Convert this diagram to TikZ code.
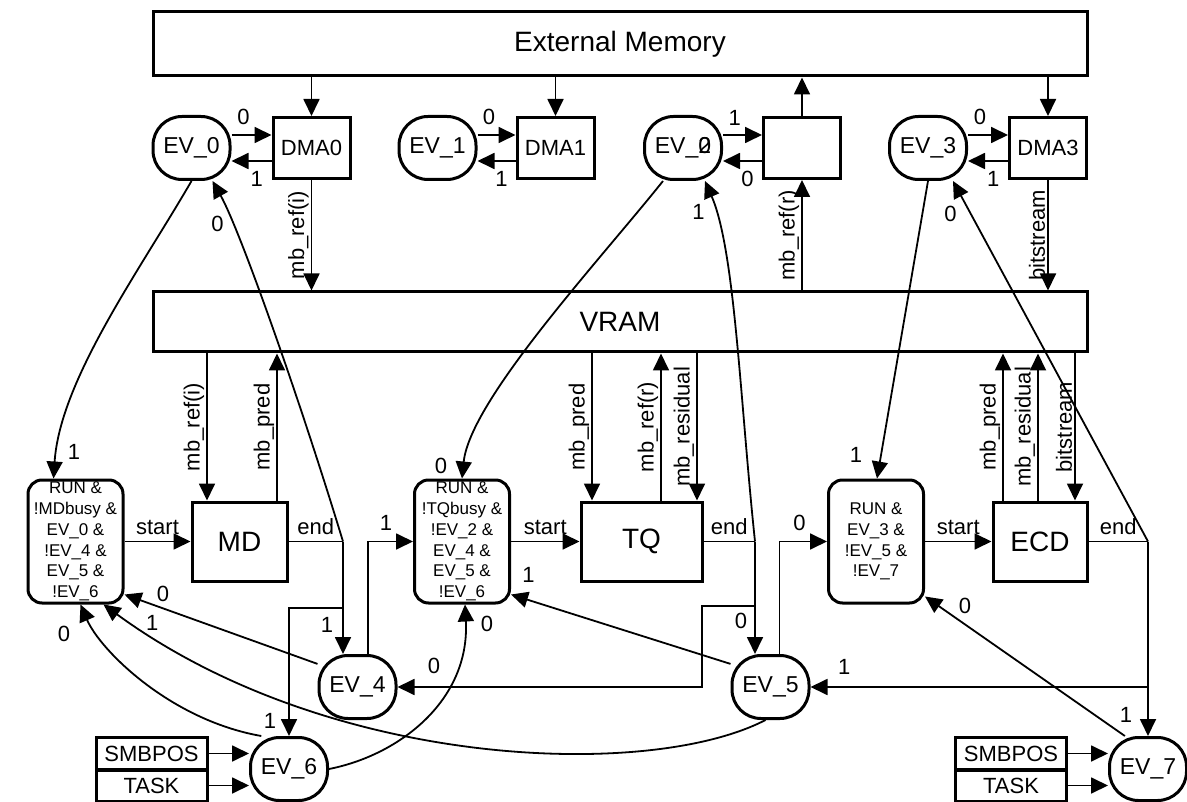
\documentclass[tikz,border=0pt]{standalone}
\usepackage{fontspec}
\setmainfont{Liberation Sans}
\usetikzlibrary{arrows.meta}
\tikzset{
  evt/.style={draw, line width=3pt, rounded corners=29pt, minimum width=77pt, minimum height=63pt, inner sep=0pt, font=\fontsize{23}{26}\selectfont},
  dma/.style={draw, line width=3pt, minimum width=77pt, minimum height=61pt, inner sep=0pt, font=\fontsize{22}{26}\selectfont},
  mem/.style={draw, line width=3pt, minimum width=934pt, inner sep=0pt, font=\fontsize{28}{32}\selectfont},
  unit/.style={draw, line width=3pt, minimum height=79pt, inner sep=0pt, font=\fontsize{28}{32}\selectfont},
  cnd/.style={draw, line width=3pt, rounded corners=14pt, minimum width=95pt, minimum height=123pt, inner sep=0pt, align=center, font=\fontsize{17}{20.7}\selectfont},
  src/.style={draw, line width=3pt, minimum width=111pt, minimum height=32pt, inner sep=0pt, font=\fontsize{22}{26}\selectfont},
  tra/.style={-{Triangle[length=17pt, width=16pt]}, line width=1.8pt},
  wire/.style={line width=1.8pt},
  tlab/.style={font=\fontsize{22}{26}\selectfont, inner sep=6pt},
  vlab/.style={font=\fontsize{22}{26}\selectfont, inner sep=2pt, rotate=90, anchor=south}
}
\newcommand{\dmalink}[3]{%
  \draw[tra] ([yshift=13pt]ev#1.east) -- node[tlab, above=3pt, pos=.3] {#2} ([yshift=13pt]dma#1.west);
  \draw[tra] ([yshift=-13pt]dma#1.west) -- node[tlab, below=3pt, pos=.37] {#3} ([yshift=-13pt]ev#1.east);}

\begin{document}
\begin{tikzpicture}[x=1pt, y=-1pt]
\useasboundingbox (0,0) rectangle (1187,802);

% memories
\node[mem, minimum height=64pt] (extmem) at (620,44) {External Memory};
\node[mem, minimum height=60pt] (vram) at (620,322) {VRAM};

% dma channels
\node[evt] (ev0) at (191.5,148) {EV\_0};
\node[dma] (dma0) at (311.5,148) {DMA0};
\node[evt] (ev1) at (437.5,148) {EV\_1};
\node[dma] (dma1) at (555.5,148) {DMA1};
\node[evt] (ev2) at (683,148) {EV\_\rlap{0}2};
\node[dma] (dma2) at (802,148) {};
\node[evt] (ev3) at (928,148) {EV\_3};
\node[dma] (dma3) at (1048,148) {DMA3};

% stages
\node[cnd] (rdyMD) at (75.5,541.5) {RUN \&\\!MDbusy \&\\EV\_0 \&\\!EV\_4 \&\\EV\_5 \&\\!EV\_6};
\node[unit, minimum width=95pt] (md) at (239.5,541.5) {MD};
\node[cnd] (rdyTQ) at (462,541.5) {RUN \&\\!TQbusy \&\\!EV\_2 \&\\EV\_4 \&\\EV\_5 \&\\!EV\_6};
\node[unit, minimum width=121pt] (tq) at (641.5,541.5) {TQ};
\node[cnd] (rdyECD) at (876,541.5) {RUN \&\\EV\_3 \&\\!EV\_5 \&\\!EV\_7};
\node[unit, minimum width=94pt] (ecd) at (1040,541.5) {ECD};

% events
\node[evt] (ev4) at (357.5,687) {EV\_4};
\node[evt] (ev5) at (770.5,687) {EV\_5};
\node[evt] (ev6) at (289,769) {EV\_6};
\node[evt] (ev7) at (1148,769) {EV\_7};
\node[src] (smbL) at (151.5,753.5) {SMBPOS};
\node[src, minimum height=31pt] (taskL) at (151.5,785.5) {TASK};
\node[src] (smbR) at (1011,753.5) {SMBPOS};
\node[src, minimum height=31pt] (taskR) at (1011,785.5) {TASK};

% junctions and ports
\coordinate (jmd) at (343,541.5);
\coordinate (jmd6) at (343,608);
\coordinate (jtq) at (755,541.5);
\coordinate (jtq4) at (755,606);
\coordinate (k4) at (702,606);
\coordinate (jecd) at (1148,541.5);
\coordinate (jecd5) at (1148,687);
\coordinate (mdA) at ([xshift=-32.5pt]md.north);
\coordinate (mdB) at ([xshift=37.5pt]md.north);
\coordinate (tqA) at ([xshift=-49.5pt]tq.north);
\coordinate (tqB) at ([xshift=19.5pt]tq.north);
\coordinate (tqC) at ([xshift=55.5pt]tq.north);
\coordinate (ecdA) at ([xshift=-37pt]ecd.north);
\coordinate (ecdB) at ([xshift=-2pt]ecd.north);
\coordinate (ecdC) at ([xshift=35pt]ecd.north);

% external memory <-> dma
\draw[tra] (extmem.south -| dma0) -- (dma0.north);
\draw[tra] (extmem.south -| dma1) -- (dma1.north);
\draw[tra] (dma2.north) -- (extmem.south -| dma2);
\draw[tra] (extmem.south -| dma3) -- (dma3.north);
\dmalink{0}{0}{1}
\dmalink{1}{0}{1}
\dmalink{2}{1}{0}
\dmalink{3}{0}{1}

% dma <-> vram
\draw[tra] (dma0.south) -- node[vlab, midway] {mb\_ref(i)} (dma0.south |- vram.north);
\draw[tra] (dma2.south |- vram.north) -- node[vlab, midway] {mb\_ref(r)} (dma2.south);
\draw[tra] (dma3.south) -- node[vlab, midway] {bitstream} (dma3.south |- vram.north);

% vram <-> stages
\draw[tra] (vram.south -| mdA) -- node[vlab, midway] {mb\_ref(i)} (mdA);
\draw[tra] (mdB) -- node[vlab, midway] {mb\_pred} (vram.south -| mdB);
\draw[tra] (vram.south -| tqA) -- node[vlab, midway] {mb\_pred} (tqA);
\draw[tra] (tqB) -- node[vlab, midway] {mb\_ref(r)} (vram.south -| tqB);
\draw[tra] (vram.south -| tqC) -- node[vlab, midway] {mb\_residual} (tqC);
\draw[tra] (ecdA) -- node[vlab, midway] {mb\_pred} (vram.south -| ecdA);
\draw[tra] (ecdB) -- node[vlab, midway] {mb\_residual} (vram.south -| ecdB);
\draw[tra] (vram.south -| ecdC) -- node[vlab, midway] {bitstream} (ecdC);

% start / end
\draw[tra] (rdyMD) -- node[tlab, above] {start} (md);
\draw[tra] (rdyTQ) -- node[tlab, above] {start} (tq);
\draw[tra] (rdyECD) -- node[tlab, above] {start} (ecd);
\draw[wire] (md) -- node[tlab, above] {end} (jmd);
\draw[wire] (tq) -- node[tlab, above] {end} (jtq);
\draw[wire] (ecd) -- node[tlab, above] {end} (jecd);

% MD end
\draw[tra] (jmd) -- node[tlab, left=3pt, pos=.74] {1} (jmd |- ev4.north);
\draw[tra] (jmd6) -| node[tlab, left=6pt, pos=.94] {1} (ev6.north);
\draw[tra] (jmd) .. controls (300,400) and (240,230) .. node[tlab, left=2pt, pos=.8] {0} ([xshift=21pt]ev0.south);

% TQ end
\draw[tra] (jtq) -- node[tlab, left=1pt, pos=.71] {0} (jtq |- ev5.north);
\draw[tra] (jtq4) -- (k4) |- node[tlab, above=6pt, pos=.94] {0} (ev4.east);
\draw[tra] (jtq) .. controls (740,400) and (735,250) .. node[tlab, left=4pt, pos=.87] {1} ([xshift=22pt]ev2.south);

% ECD end
\draw[tra] (jecd) -- node[tlab, left=9pt, pos=.89] {1} (ev7.north);
\draw[tra] (jecd5) -- node[tlab, above=6pt, pos=.9] {1} (ev5.east);
\draw[tra] (jecd) -- node[tlab, left=7pt, pos=.91] {0} ([xshift=25pt]ev3.south);

% events -> conditions
\draw[tra] (ev0.south) .. controls (140,270) and (60,380) .. node[tlab, right=4pt, pos=.91] {1} ([xshift=-22pt]rdyMD.north);
\draw[tra] ([xshift=-20pt]ev2.south) .. controls (600,260) and (470,400) .. node[tlab, left=10pt, pos=.95] {0} (rdyTQ.north);
\draw[tra] (ev3.south) -- node[tlab, left=12pt, pos=.92] {1} ([xshift=1pt]rdyECD.north);
\draw[tra] ([xshift=10.5pt]ev4.north) |- node[tlab, above=4pt, pos=.7] {1} (rdyTQ.west);
\draw[tra] ([xshift=9pt]ev5.north) |- node[tlab, above=4pt, pos=.71] {0} (rdyECD.west);
\draw[tra] (ev4.150) -- node[tlab, above, pos=.8] {0} ([yshift=10pt]rdyMD.south east);
\draw[tra] (ev5.150) -- node[tlab, above=11pt, pos=.92] {1} ([yshift=10pt]rdyTQ.south east);
\draw[tra] (ev7.125) -- node[tlab, above=4pt, pos=.8] {0} ([yshift=8pt]rdyECD.south east);
\draw[tra] ([xshift=-5pt]ev5.south) .. controls (650,780) and (330,770) .. node[tlab, above, pos=.93] {1} ([xshift=28pt]rdyMD.south);
\draw[tra] (ev6.130) .. controls (170,720) and (100,650) .. node[tlab, left=21pt, pos=.8] {0} ([xshift=5pt]rdyMD.south);
\draw[tra] (ev6.east) .. controls (400,755) and (470,700) .. node[tlab, right=9pt, pos=.93] {0} ([xshift=3pt]rdyTQ.south);

% inputs
\draw[tra] (smbL.east) -- (smbL.east -| ev6.west);
\draw[tra] (taskL.east) -- (taskL.east -| ev6.west);
\draw[tra] (smbR.east) -- (smbR.east -| ev7.west);
\draw[tra] (taskR.east) -- (taskR.east -| ev7.west);
\end{tikzpicture}
\end{document}
